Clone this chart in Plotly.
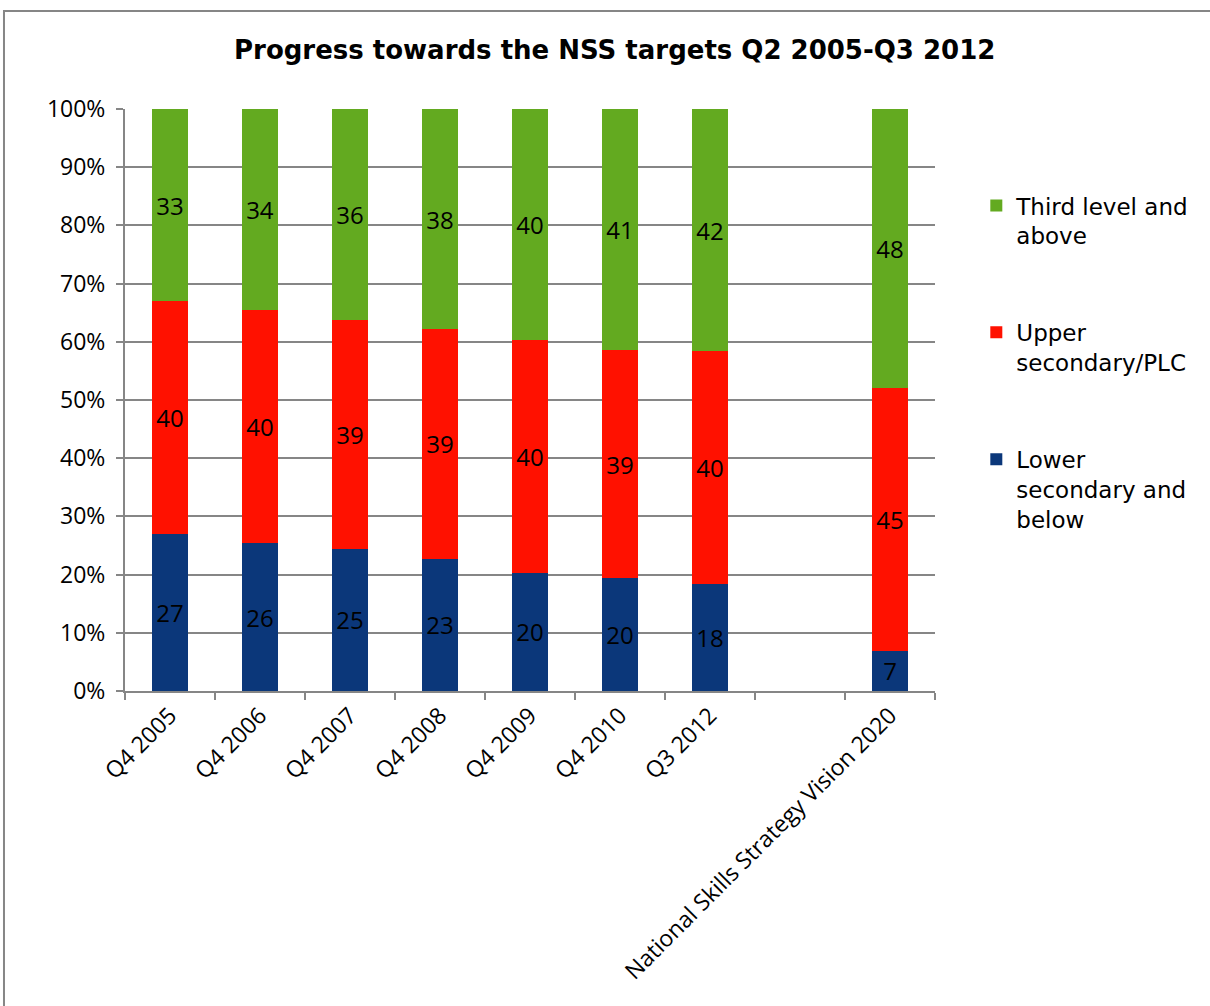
import plotly.graph_objects as go

categories = ["Q4 2005", "Q4 2006", "Q4 2007", "Q4 2008", "Q4 2009", "Q4 2010", "Q3 2012", " ",
              "National Skills Strategy Vision 2020"]

lower = [27.0, 25.4, 24.4, 22.7, 20.3, 19.4, 18.4, None, 6.9]
upper = [40.0, 40.1, 39.3, 39.5, 40.0, 39.2, 40.0, None, 45.2]
third = [33.0, 34.5, 36.3, 37.8, 39.7, 41.4, 41.6, None, 47.9]

lower_labels = ["27", "26", "25", "23", "20", "20", "18", "", "7"]
upper_labels = ["40", "40", "39", "39", "40", "39", "40", "", "45"]
third_labels = ["33", "34", "36", "38", "40", "41", "42", "", "48"]

series = [
    ("Lower<br>secondary and<br>below", lower, lower_labels, "#0B377A", 3),
    ("Upper<br>secondary/PLC", upper, upper_labels, "#FF1100", 2),
    ("Third level and<br>above", third, third_labels, "#63AA20", 1),
]

label_font = "Open Sans, Noto Sans, DejaVu Sans, sans-serif"

fig = go.Figure()
for i, (name, vals, lbls, color, rank) in enumerate(series):
    fig.add_trace(go.Bar(
        x=categories, y=vals, name=name, text=lbls,
        marker=dict(color=color, line=dict(width=0)),
        textposition="inside", insidetextanchor="middle", textangle=0,
        constraintext="none",
        textfont=dict(family=label_font, size=24, color="black"),
        legendgroup=f"g{i}", legendrank=rank, hoverinfo="skip",
    ))

fig.update_layout(
    barmode="stack",
    bargap=0.6,
    width=1210, height=1006,
    margin=dict(l=125, r=275, t=109, b=315),
    paper_bgcolor="white", plot_bgcolor="white",
    title=dict(text="<b>Progress towards the NSS targets Q2 2005-Q3 2012</b>",
               font=dict(family="DejaVu Sans, sans-serif", size=26, color="black"),
               x=0.508, xanchor="center", y=0.95, yanchor="middle"),
    showlegend=True,
    legend=dict(traceorder="grouped", x=1.051, xanchor="left", y=0.871, yanchor="top",
                font=dict(family="DejaVu Sans, sans-serif", size=23, color="black"),
                tracegroupgap=64, itemwidth=30, valign="top"),
    xaxis=dict(
        type="category", categoryorder="array", categoryarray=categories,
        showline=True, linecolor="#868686", linewidth=2,
        ticks="outside", ticklen=7, tickcolor="#868686", tickwidth=2,
        tickson="boundaries", tickangle=-45,
        tickfont=dict(family=label_font, size=23, color="black"),
        showgrid=False,
    ),
    yaxis=dict(
        range=[0, 100], dtick=10, ticksuffix="%",
        showline=True, linecolor="#868686", linewidth=2,
        ticks="outside", ticklen=7, tickcolor="#868686", tickwidth=2,
        showgrid=True, gridcolor="#868686", gridwidth=1.5,
        tickfont=dict(family=label_font, size=23, color="black"),
        zeroline=False, ticklabelstandoff=6,
    ),
    shapes=[dict(type="rect", xref="paper", yref="paper",
                 x0=-0.1494, y0=-0.56, x1=1.36, y1=1.1684,
                 line=dict(color="#868686", width=2), fillcolor="rgba(0,0,0,0)", layer="below")],
)

fig.write_html("out.html", config={"displayModeBar": False},
               post_script="document.body.style.margin='0';")
